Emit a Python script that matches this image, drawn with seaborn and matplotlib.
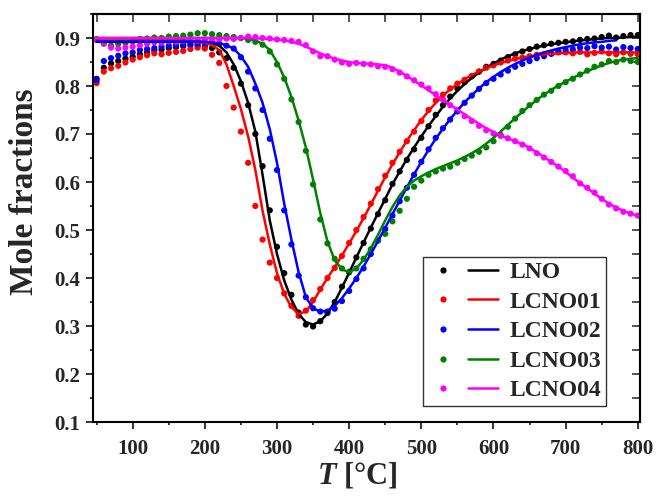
import numpy as np
import matplotlib
matplotlib.use("Agg")
import matplotlib.pyplot as plt
import seaborn as sns
from matplotlib.lines import Line2D
from matplotlib.legend_handler import HandlerTuple
from matplotlib.ticker import MultipleLocator, FormatStrFormatter, NullLocator

# measured temperature grid [°C]
temps = np.arange(50, 801, 10)

# measured mole fractions (dots)
lno_dots = [0.815, 0.838, 0.847, 0.852, 0.857, 0.861, 0.866, 0.870, 0.874, 0.876,
            0.879, 0.881, 0.883, 0.885, 0.884, 0.883, 0.879, 0.870, 0.858, 0.838,
            0.805, 0.760, 0.700, 0.633, 0.541, 0.465, 0.410, 0.365, 0.328, 0.303,
            0.299, 0.310, 0.327, 0.350, 0.382, 0.412, 0.443, 0.473, 0.503, 0.533,
            0.562, 0.596, 0.622, 0.646, 0.668, 0.692, 0.716, 0.740, 0.760, 0.778,
            0.795, 0.808, 0.820, 0.830, 0.840, 0.846, 0.853, 0.860, 0.866, 0.872,
            0.877, 0.882, 0.885, 0.888, 0.890, 0.892, 0.893, 0.896, 0.898, 0.899,
            0.902, 0.905, 0.901, 0.904, 0.906, 0.906]
lcno01_dots = [0.806, 0.830, 0.837, 0.842, 0.849, 0.855, 0.860, 0.864, 0.868, 0.866,
               0.869, 0.871, 0.873, 0.877, 0.880, 0.878, 0.865, 0.848, 0.800, 0.755,
               0.705, 0.640, 0.550, 0.480, 0.432, 0.400, 0.368, 0.342, 0.321, 0.332,
               0.354, 0.377, 0.400, 0.421, 0.446, 0.473, 0.500, 0.527, 0.555, 0.585,
               0.613, 0.640, 0.663, 0.685, 0.705, 0.727, 0.750, 0.770, 0.782, 0.795,
               0.805, 0.813, 0.821, 0.830, 0.838, 0.843, 0.849, 0.853, 0.857, 0.859,
               0.862, 0.865, 0.866, 0.868, 0.870, 0.870, 0.868, 0.871, 0.866, 0.869,
               0.872, 0.868, 0.866, 0.870, 0.867, 0.866]
lcno02_dots = [0.812, 0.852, 0.858, 0.863, 0.868, 0.870, 0.875, 0.877, 0.879, 0.882,
               0.884, 0.885, 0.886, 0.887, 0.888, 0.889, 0.890, 0.888, 0.884, 0.878,
               0.860, 0.830, 0.795, 0.750, 0.690, 0.625, 0.541, 0.470, 0.405, 0.360,
               0.337, 0.330, 0.330, 0.336, 0.352, 0.373, 0.398, 0.420, 0.450, 0.478,
               0.502, 0.530, 0.560, 0.588, 0.615, 0.642, 0.668, 0.692, 0.712, 0.730,
               0.747, 0.765, 0.780, 0.794, 0.806, 0.815, 0.824, 0.832, 0.840, 0.846,
               0.852, 0.858, 0.862, 0.867, 0.872, 0.875, 0.876, 0.880, 0.879, 0.883,
               0.880, 0.882, 0.876, 0.881, 0.879, 0.877]
lcno03_dots = [0.898, 0.888, 0.884, 0.888, 0.890, 0.893, 0.898, 0.899, 0.901, 0.900,
               0.903, 0.904, 0.905, 0.907, 0.910, 0.910, 0.908, 0.906, 0.904, 0.902,
               0.900, 0.896, 0.892, 0.886, 0.872, 0.845, 0.815, 0.772, 0.725, 0.665,
               0.595, 0.522, 0.472, 0.440, 0.420, 0.413, 0.420, 0.440, 0.460, 0.478,
               0.492, 0.518, 0.540, 0.565, 0.590, 0.603, 0.615, 0.622, 0.628, 0.632,
               0.640, 0.648, 0.655, 0.663, 0.672, 0.685, 0.698, 0.715, 0.732, 0.748,
               0.760, 0.771, 0.782, 0.790, 0.800, 0.808, 0.815, 0.824, 0.832, 0.840,
               0.845, 0.852, 0.850, 0.855, 0.852, 0.850]
lcno04_dots = [0.896, 0.890, 0.880, 0.878, 0.880, 0.882, 0.885, 0.888, 0.891, 0.890,
               0.893, 0.892, 0.894, 0.896, 0.894, 0.897, 0.895, 0.897, 0.899, 0.898,
               0.900, 0.903, 0.902, 0.900, 0.899, 0.897, 0.896, 0.894, 0.892, 0.885,
               0.872, 0.862, 0.862, 0.855, 0.849, 0.846, 0.848, 0.846, 0.845, 0.841,
               0.840, 0.835, 0.828, 0.820, 0.812, 0.803, 0.795, 0.783, 0.772, 0.760,
               0.750, 0.737, 0.727, 0.717, 0.708, 0.701, 0.696, 0.691, 0.685, 0.678,
               0.670, 0.660, 0.651, 0.642, 0.632, 0.623, 0.612, 0.597, 0.588, 0.578,
               0.565, 0.553, 0.545, 0.538, 0.534, 0.530]

# fitted curves (solid lines)
lno_fit = [0.892] * 10 + [
    0.892, 0.892, 0.892, 0.892, 0.892, 0.891, 0.889, 0.884, 0.870, 0.845,
    0.810, 0.765, 0.705, 0.615, 0.520, 0.450, 0.395, 0.355, 0.325, 0.308,
    0.303, 0.310, 0.326, 0.350, 0.380, 0.411, 0.443, 0.474, 0.505, 0.535,
    0.565, 0.595, 0.622, 0.648, 0.672, 0.695, 0.717, 0.737, 0.757, 0.774,
    0.790, 0.804, 0.817, 0.828, 0.838, 0.847, 0.855, 0.862, 0.868, 0.873,
    0.877, 0.881, 0.884, 0.887, 0.889, 0.891, 0.893, 0.895, 0.896, 0.898,
    0.899, 0.900, 0.900, 0.901, 0.902, 0.902]
lcno01_fit = [0.895] * 10 + [
    0.895, 0.895, 0.895, 0.894, 0.892, 0.890, 0.885, 0.875, 0.845, 0.800,
    0.752, 0.695, 0.625, 0.540, 0.470, 0.410, 0.367, 0.339, 0.325, 0.330,
    0.350, 0.376, 0.400, 0.423, 0.447, 0.472, 0.498, 0.525, 0.553, 0.582,
    0.610, 0.637, 0.662, 0.686, 0.708, 0.729, 0.748, 0.765, 0.780, 0.793,
    0.804, 0.814, 0.823, 0.830, 0.837, 0.843, 0.848, 0.852, 0.856, 0.859,
    0.862, 0.864, 0.866, 0.867, 0.868, 0.869, 0.870, 0.870, 0.870, 0.870,
    0.870, 0.870, 0.870, 0.870, 0.870, 0.870]
lcno02_fit = [0.893] * 10 + [
    0.893, 0.893, 0.893, 0.893, 0.893, 0.892, 0.891, 0.889, 0.885, 0.878,
    0.862, 0.840, 0.805, 0.765, 0.710, 0.640, 0.555, 0.480, 0.412, 0.360,
    0.337, 0.330, 0.332, 0.342, 0.358, 0.378, 0.400, 0.424, 0.450, 0.477,
    0.505, 0.533, 0.561, 0.589, 0.616, 0.642, 0.667, 0.690, 0.711, 0.731,
    0.749, 0.766, 0.781, 0.795, 0.808, 0.819, 0.829, 0.838, 0.846, 0.853,
    0.859, 0.865, 0.870, 0.874, 0.878, 0.881, 0.884, 0.887, 0.889, 0.891,
    0.892, 0.894, 0.895]
lcno03_fit = [0.900] * 20 + [
    0.900, 0.898, 0.895, 0.888, 0.875, 0.850, 0.818, 0.777, 0.728, 0.672,
    0.605, 0.535, 0.476, 0.437, 0.418, 0.412, 0.420, 0.438, 0.462, 0.490,
    0.520, 0.548, 0.572, 0.590, 0.603, 0.612, 0.620, 0.627, 0.633, 0.639,
    0.645, 0.652, 0.660, 0.669, 0.680, 0.692, 0.705, 0.719, 0.733, 0.746,
    0.759, 0.771, 0.782, 0.792, 0.801, 0.809, 0.817, 0.824, 0.831, 0.837,
    0.843, 0.848, 0.852, 0.855, 0.857, 0.858]
lcno04_fit = [0.900] * 20 + [
    0.900, 0.900, 0.899, 0.899, 0.898, 0.897, 0.895, 0.892, 0.888, 0.882,
    0.875, 0.868, 0.862, 0.857, 0.853, 0.850, 0.848, 0.847, 0.846, 0.845,
    0.843, 0.838, 0.830, 0.821, 0.811, 0.801, 0.791, 0.781, 0.771, 0.761,
    0.751, 0.741, 0.731, 0.721, 0.712, 0.704, 0.697, 0.691, 0.685, 0.679,
    0.671, 0.662, 0.652, 0.642, 0.632, 0.621, 0.609, 0.598, 0.587, 0.576,
    0.565, 0.555, 0.547, 0.540, 0.534, 0.530]

labels = ["LNO", "LCNO01", "LCNO02", "LCNO03", "LCNO04"]
colors = ["#000000", "#ff0000", "#0000ff", "#008000", "#ff00ff"]
dots = [lno_dots, lcno01_dots, lcno02_dots, lcno03_dots, lcno04_dots]
fits = [lno_fit, lcno01_fit, lcno02_fit, lcno03_fit, lcno04_fit]

sns.set_style("ticks")
plt.rcParams["font.family"] = ["Liberation Serif", "DejaVu Serif"]
plt.rcParams["font.weight"] = "bold"
plt.rcParams["mathtext.fontset"] = "custom"
plt.rcParams["mathtext.it"] = "Liberation Serif:italic:bold"
plt.rcParams["mathtext.rm"] = "Liberation Serif:bold"

fig = plt.figure(figsize=(6.59, 5), dpi=100)
ax = fig.add_axes([0.1411, 0.156, 0.830, 0.816])

handles = []
for lab, col, yd, yf in zip(labels, colors, dots, fits):
    sns.scatterplot(x=temps, y=yd, ax=ax, color=col, s=20, edgecolor="none",
                    linewidth=0, legend=False, zorder=2)
    sns.lineplot(x=temps[:len(yf)], y=yf, ax=ax, color=col, lw=1.8,
                 estimator=None, sort=False, legend=False, zorder=3)
    dot_h = Line2D([], [], ls="none", marker="o", ms=4.5, color=col, mec="none")
    line_h = Line2D([], [], ls="-", lw=1.8, color=col)
    handles.append((dot_h, line_h))

ax.set_xlim(45, 803)
ax.set_ylim(0.1, 0.95)
ax.xaxis.set_major_locator(MultipleLocator(100))
ax.xaxis.set_minor_locator(MultipleLocator(50))
ax.yaxis.set_minor_locator(MultipleLocator(0.05))
ax.set_yticks(np.arange(0.1, 0.91, 0.1))
ax.yaxis.set_major_formatter(FormatStrFormatter("%.1f"))

for sp in ax.spines.values():
    sp.set_linewidth(1.5)
    sp.set_color("black")
ax.tick_params(which="major", direction="out", length=5, width=1.1,
               labelsize=15, color="black")
ax.tick_params(which="minor", direction="out", length=2.5, width=1.1, color="black")
ax.tick_params(axis="x", pad=7)
ax.tick_params(axis="y", pad=4)
for t in ax.get_xticklabels() + ax.get_yticklabels():
    t.set_fontweight("bold")

top = ax.secondary_xaxis("top")
top.set_xticks(np.arange(50, 801, 50))
top.xaxis.set_minor_locator(NullLocator())
top.tick_params(direction="in", length=5.5, width=1.1, labeltop=False)
right = ax.secondary_yaxis("right")
right.set_yticks(np.arange(0.1, 0.951, 0.05))
right.yaxis.set_minor_locator(NullLocator())
right.tick_params(direction="in", length=5.5, width=1.1, labelright=False)
for sec in (top, right):
    for sp in sec.spines.values():
        sp.set_linewidth(1.5)

ax.set_ylabel("Mole fractions", fontsize=24, fontweight="bold")
ax.yaxis.set_label_coords(-0.097, 0.565)
ax.set_xlabel(r"$T$ [°C]", fontsize=22, fontweight="bold")
ax.xaxis.set_label_coords(0.4836, -0.095)

leg = ax.legend(handles, labels, handler_map={tuple: HandlerTuple(ndivide=None, pad=0.42)},
                loc="lower right", bbox_to_anchor=(0.938, 0.039),
                prop={"weight": "bold", "size": 17}, frameon=True, fancybox=False,
                handlelength=2.97, handletextpad=0.5, labelspacing=0.34,
                borderpad=0.2, borderaxespad=0)
leg.get_frame().set_edgecolor("black")
leg.get_frame().set_linewidth(1.0)

fig.savefig("out.png", dpi=100)
